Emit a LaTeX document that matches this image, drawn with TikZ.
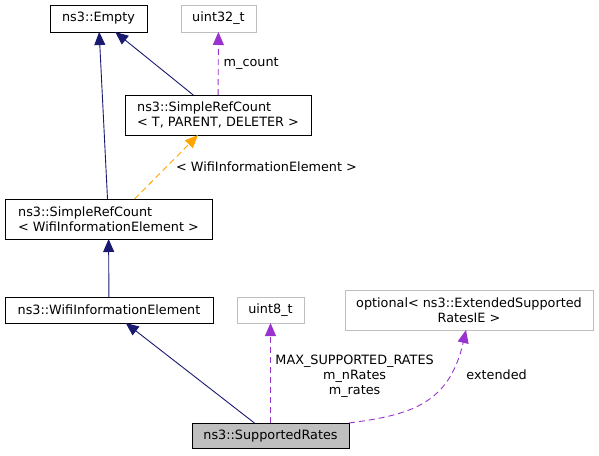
\documentclass[tikz,border=0pt]{standalone}
\usepackage{fontspec}
\setmainfont{DejaVu Sans}
\usetikzlibrary{arrows.meta,calc,positioning}
\definecolor{navyblue}{HTML}{191970}
\definecolor{orchid}{HTML}{9A32CD}
\definecolor{lightgrey}{HTML}{BFBFBF}
\definecolor{tmplorange}{HTML}{FFA500}

\begin{document}
\begin{tikzpicture}[x=1pt,y=-1pt,
  font=\fontsize{12.8}{15}\selectfont,
  cls/.style={draw,line width=0.9pt,inner sep=0pt,outer sep=0pt,align=left},
  ext/.style={cls,draw=lightgrey,align=center},
  inh/.style={navyblue,line width=0.9pt,-{Triangle[length=13pt,width=11pt]}},
  use/.style={orchid,line width=0.9pt,dash pattern=on 6pt off 4pt,-{Triangle[length=13pt,width=11pt]}},
  tmpl/.style={tmplorange,line width=0.9pt,dash pattern=on 6pt off 4pt,-{Triangle[length=13pt,width=11pt]}},
  lbl/.style={text=black,inner sep=0pt,align=center}]

\useasboundingbox (0,0) rectangle (599,455);

\node[cls,minimum width=97,minimum height=27] (empty) at (98.5,18.5) {ns3::Empty};
\node[ext,minimum width=75,minimum height=27] (u32) at (218.5,18.5) {uint32\_t};
\node[cls,minimum width=186,minimum height=40] (srct) at (218,115) {ns3::SimpleRefCount\\< T, PARENT, DELETER >};
\node[cls,minimum width=207,minimum height=40] (srcw) at (108.5,219) {ns3::SimpleRefCount\\< WifiInformationElement >};
\node[cls,minimum width=208,minimum height=26] (wie) at (109,310) {ns3::WifiInformationElement};
\node[ext,minimum width=67,minimum height=26] (u8) at (270.5,310) {uint8\_t};
\node[ext,minimum width=248,minimum height=40] (opt) at (469,310) {optional< ns3::ExtendedSupported\\RatesIE >};
\node[cls,fill=lightgrey,minimum width=157,minimum height=25] (sr) at (270.5,435.5) {ns3::SupportedRates};

\path[inh] (srcw) edge (empty) (srct) edge (empty) (wie) edge (srcw) (sr) edge (wie);

\path[use] (srct) edge node[lbl,right=5pt] {m\_count} (u32)
  (sr) edge node[lbl,right=4.5pt,yshift=-3pt] {MAX\_SUPPORTED\_RATES\\m\_nRates\\m\_rates} (u8);

\draw[use] (sr.north east) .. controls +(60,-8) and +(-17,75) .. ($(opt.south)+(-3,0)$)
  node[lbl,pos=0.75,right=17pt] {extended};

\path[tmpl] ($(srcw.north)+(26,0)$) edge node[lbl,right=9.5pt] {< WifiInformationElement >} ($(srct.south)+(-20,0)$);

\end{tikzpicture}
\end{document}
